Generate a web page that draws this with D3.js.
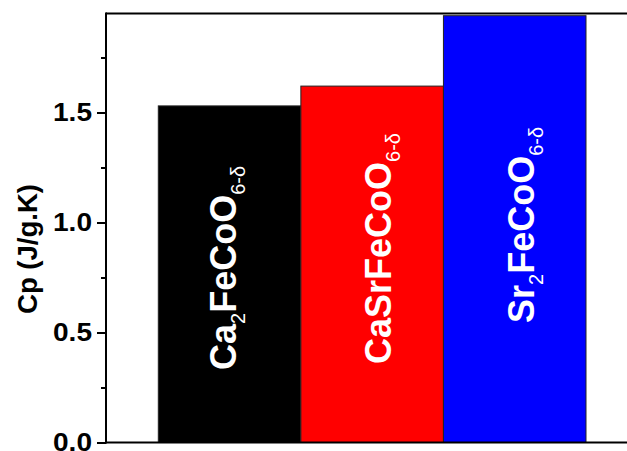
<!DOCTYPE html>
<html>
<head>
<meta charset="utf-8">
<script src="https://cdn.jsdelivr.net/npm/d3@7"></script>
<style>
  html, body { margin: 0; padding: 0; background: #fff; }
  svg { display: block; font-family: "Liberation Sans", Arial, Helvetica, sans-serif; }
</style>
</head>
<body>
<svg id="chart" width="627" height="451"></svg>
<script>
// Heat capacity of the three double perovskites
const categories = ["Ca2FeCoO6-d", "CaSrFeCoO6-d", "Sr2FeCoO6-d"];
const cpValues = [1.53, 1.62, 1.94];
const barColors = ["#000000", "#ff0000", "#0000ff"];
// formula pieces: [text, isSubscript]
const barLabels = [
  [["Ca", false], ["2", true], ["FeCoO", false], ["6-δ", true]],
  [["CaSrFeCoO", false], ["6-δ", true]],
  [["Sr", false], ["2", true], ["FeCoO", false], ["6-δ", true]]
];
const majorTicks = [0.0, 0.5, 1.0, 1.5];
const minorTicks = [0.25, 0.75, 1.25, 1.75];
const yLabel = "Cp (J/g.K)";

// label placement inside each bar (pixels: baseline shift from bar centre, start height)
const labelLayout = [
  { dx: 6.5, y: 370 },
  { dx: 19, y: 364 },
  { dx: 19.5, y: 323 }
];

const svg = d3.select("#chart");
const plot = { left: 106, right: 700, top: 13.5, bottom: 442.5 };

const x = d3.scaleBand()
  .domain(categories)
  .range([158.3, 586])
  .paddingInner(0)
  .paddingOuter(0);

const y = d3.scaleLinear()
  .domain([0, 1.95])
  .range([plot.bottom, plot.top]);

// bars
svg.append("g")
  .selectAll("rect")
  .data(categories)
  .join("rect")
  .attr("x", d => x(d))
  .attr("y", (d, i) => y(cpValues[i]))
  .attr("width", x.bandwidth())
  .attr("height", (d, i) => y(0) - y(cpValues[i]))
  .attr("fill", (d, i) => barColors[i])
  .attr("stroke", "#222")
  .attr("stroke-width", 1);

// formula labels written upward inside the bars
const labels = svg.append("g")
  .selectAll("text")
  .data(categories)
  .join("text")
  .attr("transform", (d, i) => {
    const cx = x(d) + x.bandwidth() / 2 + labelLayout[i].dx;
    return `translate(${cx},${labelLayout[i].y}) rotate(-90)`;
  })
  .attr("fill", "#fff")
  .attr("font-size", 36)
  .attr("font-weight", "bold");

labels.each(function(d, i) {
  const t = d3.select(this);
  barLabels[i].forEach(([txt, sub], k) => {
    const ts = t.append("tspan").text(txt);
    if (sub) {
      ts.attr("font-size", 20).attr("font-weight", "normal").attr("dy", 9);
    } else {
      ts.attr("dy", k > 0 ? -9 : 0);
    }
  });
});

// frame: top and bottom lines
svg.append("line")
  .attr("x1", plot.left).attr("x2", plot.right)
  .attr("y1", plot.top).attr("y2", plot.top)
  .attr("stroke", "#000").attr("stroke-width", 2);
svg.append("line")
  .attr("x1", plot.left).attr("x2", plot.right)
  .attr("y1", plot.bottom).attr("y2", plot.bottom)
  .attr("stroke", "#000").attr("stroke-width", 2);

// left axis with major ticks
const yAxis = d3.axisLeft(y)
  .tickValues(majorTicks)
  .tickFormat(d3.format(".1f"))
  .tickSize(9)
  .tickSizeOuter(0)
  .tickPadding(5);

const axisG = svg.append("g")
  .attr("transform", `translate(${plot.left},0)`)
  .call(yAxis);
axisG.select(".domain")
  .attr("d", `M0,${plot.top - 1}V${plot.bottom + 1}`)
  .attr("stroke", "#000").attr("stroke-width", 2);
axisG.selectAll(".tick line").attr("stroke", "#000").attr("stroke-width", 2);
axisG.selectAll(".tick text")
  .attr("font-size", 26)
  .attr("font-weight", "bold")
  .attr("font-family", "Liberation Sans, Arial, sans-serif")
  .attr("textLength", 39)
  .attr("lengthAdjust", "spacingAndGlyphs")
  .attr("fill", "#000");

// minor ticks
const minorAxis = d3.axisLeft(y)
  .tickValues(minorTicks)
  .tickFormat("")
  .tickSize(5)
  .tickSizeOuter(0);
const minorG = svg.append("g")
  .attr("transform", `translate(${plot.left},0)`)
  .call(minorAxis);
minorG.select(".domain").remove();
minorG.selectAll(".tick line").attr("stroke", "#000").attr("stroke-width", 2);

// y axis title
svg.append("text")
  .attr("transform", `translate(37,249) rotate(-90)`)
  .attr("text-anchor", "middle")
  .attr("font-size", 27)
  .attr("font-weight", "bold")
  .attr("textLength", 130)
  .attr("lengthAdjust", "spacingAndGlyphs")
  .attr("fill", "#000")
  .text(yLabel);
</script>
</body>
</html>
